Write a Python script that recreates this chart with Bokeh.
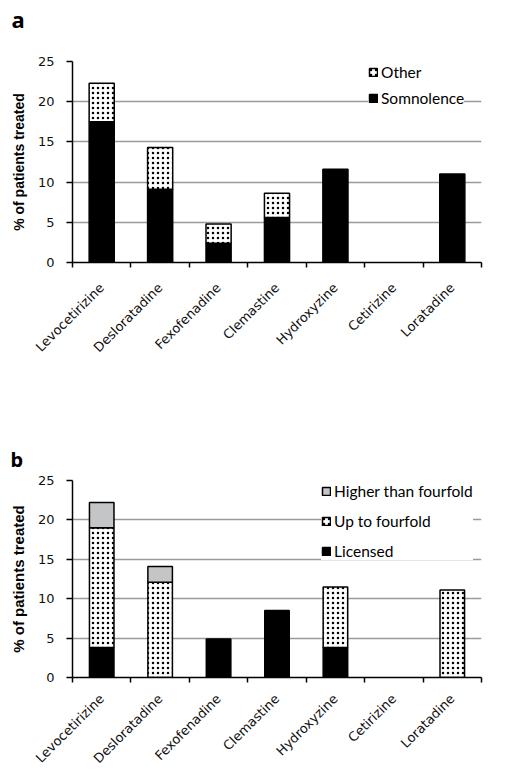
import math
from bokeh.plotting import figure
from bokeh.models import (ColumnDataSource, Range1d, FixedTicker, Legend,
                          LegendItem, Title)
from bokeh.layouts import column
from bokeh.embed import file_html
from bokeh.resources import INLINE

# ---------------- data ----------------
drugs = ["Levocetirizine", "Desloratadine", "Fexofenadine", "Clemastine",
         "Hydroxyzine", "Cetirizine", "Loratadine"]

# panel a
a_somnolence = [17.5, 9.1, 2.4, 5.6, 11.6, 0.0, 11.0]
a_other = [4.8, 5.2, 2.4, 3.0, 0.0, 0.0, 0.0]

# panel b
b_licensed = [3.8, 0.0, 4.9, 8.5, 3.8, 0.0, 0.0]
b_up_to_fourfold = [15.2, 12.1, 0.0, 0.0, 7.7, 0.0, 11.1]
b_higher_than_fourfold = [3.2, 2.0, 0.0, 0.0, 0.0, 0.0, 0.0]

y_ticks = [0, 5, 10, 15, 20, 25]
y_label = "% of patients treated"

TICK_FONT = "DejaVu Sans"
LEGEND_FONT = "Lato"
TITLE_FONT = "Liberation Sans"


def base_figure(height, mb_left, mb_right, mb_top, mb_bottom, xfont_size,
                x_standoff, title_size):
    n = len(drugs)
    p = figure(width=508, height=height, output_backend="svg", toolbar_location=None,
               x_range=Range1d(0, n), y_range=Range1d(0, 25),
               min_border_left=mb_left, min_border_right=mb_right,
               min_border_top=mb_top, min_border_bottom=mb_bottom)
    p.outline_line_color = None
    p.background_fill_color = "white"
    p.border_fill_color = "white"
    centers = [i + 0.5 for i in range(n)]

    # x axis: labels at bar centres, tick marks at category boundaries
    p.xaxis.ticker = FixedTicker(ticks=centers, minor_ticks=list(range(n + 1)))
    p.xaxis.major_label_overrides = {c: d for c, d in zip(centers, drugs)}
    p.xaxis.major_label_orientation = math.pi / 4
    p.xaxis.major_tick_out = 0
    p.xaxis.major_tick_in = 0
    p.xaxis.minor_tick_out = 5
    p.xaxis.minor_tick_in = 0
    p.xaxis.minor_tick_line_color = "black"
    p.xaxis.minor_tick_line_width = 1.5
    p.xaxis.axis_line_color = "black"
    p.xaxis.axis_line_width = 1.5
    p.xaxis.major_label_text_font = TICK_FONT
    p.xaxis.major_label_text_font_size = xfont_size
    p.xaxis.major_label_text_color = "#111111"
    p.xaxis.major_label_standoff = x_standoff

    # y axis
    p.yaxis.ticker = FixedTicker(ticks=y_ticks)
    p.yaxis.major_tick_out = 6
    p.yaxis.major_tick_in = 0
    p.yaxis.major_tick_line_color = "black"
    p.yaxis.major_tick_line_width = 1.5
    p.yaxis.axis_line_color = "black"
    p.yaxis.axis_line_width = 1.5
    p.yaxis.major_label_text_font = TICK_FONT
    p.yaxis.major_label_text_font_size = "13px"
    p.yaxis.major_label_text_color = "#111111"
    p.yaxis.major_label_standoff = 12
    p.yaxis.axis_label = y_label
    p.yaxis.axis_label_text_font = TITLE_FONT
    p.yaxis.axis_label_text_font_style = "bold"
    p.yaxis.axis_label_text_font_size = title_size
    p.yaxis.axis_label_text_color = "black"
    p.yaxis.axis_label_standoff = 8

    p.xgrid.grid_line_color = None
    p.ygrid.ticker = FixedTicker(ticks=y_ticks[1:])
    p.ygrid.grid_line_color = "#9a9a9a"
    p.ygrid.grid_line_width = 1.3
    return p, centers


def style_legend(items, loc, font_size, spacing, padding):
    return Legend(items=items, location=loc, orientation="vertical",
                  label_text_font=LEGEND_FONT, label_text_font_size=font_size,
                  label_text_color="black",
                  glyph_width=10, glyph_height=10, label_standoff=3,
                  label_height=16, spacing=spacing, padding=padding, margin=0,
                  border_line_color=None, background_fill_color="white",
                  background_fill_alpha=1.0)


def add_panel_letter(p, letter, offset, size, gap):
    # spacer panel between the frame and the letter, then the letter itself
    p.add_layout(Title(text=" ", text_font_size="1px", standoff=gap), "above")
    p.add_layout(Title(text=letter, align="left", offset=offset, standoff=0,
                       text_font="Noto Sans", text_font_style="bold",
                       text_font_size=size, text_color="black"), "above")


def visible(vals):
    return [1.0 if v > 0 else 0.0 for v in vals]


HATCH = dict(hatch_color="black", hatch_scale=5, hatch_weight=0.5)

# ---------------- panel a ----------------
pa, centers = base_figure(440, 71, 27, 61, 178, "13px", 18, "14px")
src_a = ColumnDataSource(dict(x=centers, somnolence=a_somnolence, other=a_other,
                              la_s=visible(a_somnolence), la_o=visible(a_other)))
ra = pa.vbar_stack(["somnolence", "other"], x="x", width=0.43, source=src_a,
                   fill_color=["black", "white"], line_color="black", line_width=1.5,
                   line_alpha=["la_s", "la_o"],
                   hatch_pattern=["blank", "dot"], **HATCH)
leg_a = style_legend([LegendItem(label="Other", renderers=[ra[1]]),
                      LegendItem(label="Somnolence", renderers=[ra[0]])],
                     (296, 155), "15.5px", 8, 20)
pa.add_layout(leg_a)
add_panel_letter(pa, "a", -61, "22px", 25)

# ---------------- panel b ----------------
pb, centers = base_figure(334, 72, 0, 40, 93, "13px", 14, "15px")
src_b = ColumnDataSource(dict(x=centers, licensed=b_licensed,
                              up=b_up_to_fourfold, higher=b_higher_than_fourfold,
                              la_l=visible(b_licensed), la_u=visible(b_up_to_fourfold),
                              la_h=visible(b_higher_than_fourfold)))
rb = pb.vbar_stack(["licensed", "up", "higher"], x="x", width=0.42, source=src_b,
                   fill_color=["black", "white", "#c3c5c7"], line_color="black",
                   line_width=1.5, line_alpha=["la_l", "la_u", "la_h"],
                   hatch_pattern=["blank", "dot", "blank"], **HATCH)
leg_b = style_legend([LegendItem(label="Higher than fourfold", renderers=[rb[2]]),
                      LegendItem(label="Up to fourfold", renderers=[rb[1]]),
                      LegendItem(label="Licensed", renderers=[rb[0]])],
                     (249, 117), "15.5px", 12, 28)
pb.add_layout(leg_b)
add_panel_letter(pb, "b", -62, "20px", 5)

layout = column(pa, pb, spacing=0)
open("out.html", "w").write(file_html(layout, INLINE))
